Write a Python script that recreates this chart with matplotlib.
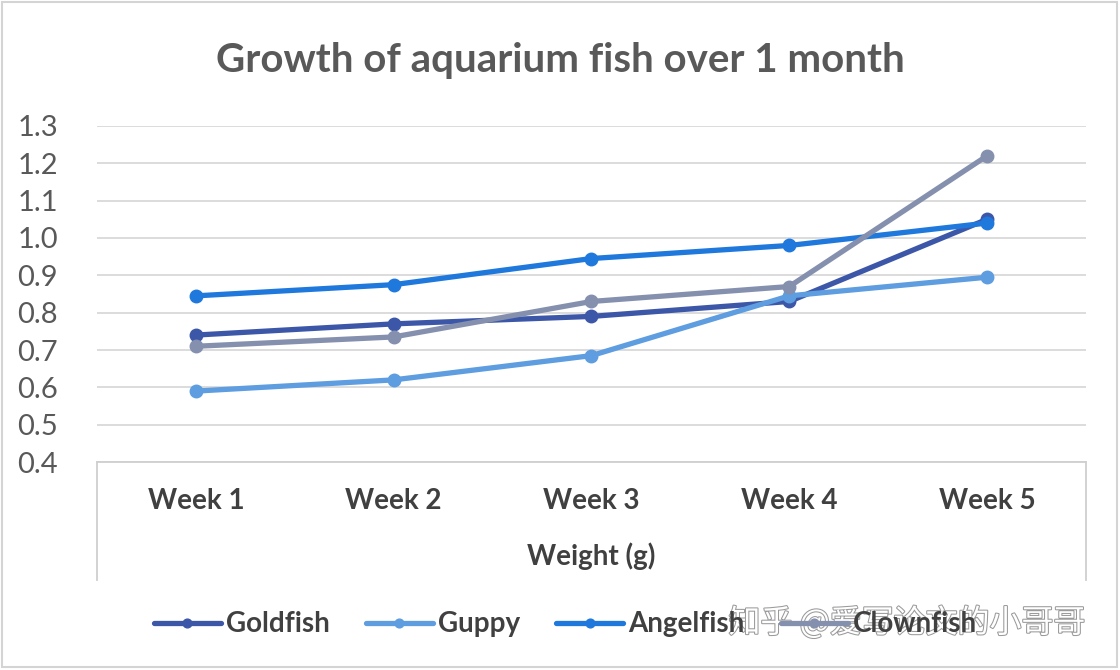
import matplotlib.pyplot as plt
import matplotlib.patheffects as pe
from matplotlib.lines import Line2D
from matplotlib.patches import Rectangle

plt.rcParams['font.family'] = ['Lato', 'DejaVu Sans']

weeks = ["Week 1", "Week 2", "Week 3", "Week 4", "Week 5"]
goldfish = [0.74, 0.77, 0.79, 0.83, 1.05]
guppy = [0.59, 0.62, 0.685, 0.845, 0.895]
angelfish = [0.845, 0.875, 0.945, 0.98, 1.04]
clownfish = [0.71, 0.735, 0.83, 0.87, 1.22]
yticks = [0.4, 0.5, 0.6, 0.7, 0.8, 0.9, 1.0, 1.1, 1.2, 1.3]

series = [
    ("Goldfish", goldfish, "#3d57a8"),
    ("Guppy", guppy, "#5d9de0"),
    ("Angelfish", angelfish, "#1f78dc"),
    ("Clownfish", clownfish, "#8490ad"),
]

fig = plt.figure(figsize=(11.2, 6.7), dpi=100)
ax = fig.add_axes([0.0866, 0.3104, 0.883, 0.5016])

x = list(range(len(weeks)))
for name, vals, col in series:
    ax.plot(x, vals, color=col, lw=3.8, marker="o", ms=9, label=name,
            solid_capstyle="round")

ax.set_xlim(-0.5, len(weeks) - 0.5)
ax.set_ylim(0.4, 1.3)
ax.set_yticks(yticks)
ax.set_yticklabels([f"{v:.1f}" for v in yticks])
ax.grid(axis="y", color="#d9d9d9", lw=1.3)
ax.set_axisbelow(True)
for s in ["left", "right", "top"]:
    ax.spines[s].set_visible(False)
ax.spines["bottom"].set_color("#cfcfcf")
ax.spines["bottom"].set_linewidth(1.3)

ax.tick_params(axis="y", length=0, pad=28, labelsize=21, labelcolor="#595959")
ax.tick_params(axis="x", length=0, pad=19, labelsize=20, labelcolor="#404040")
ax.set_xticks(x)
ax.set_xticklabels(weeks, fontweight="bold")

# box under the axis
for xx in (0, 1):
    ax.add_line(Line2D([xx, xx], [0, -0.35], transform=ax.transAxes,
                       color="#cfcfcf", lw=1.3, clip_on=False))

ax.set_xlabel("Weight (g)", fontsize=20, fontweight="bold", color="#404040",
              labelpad=20)

fig.text(0.5, 0.91, "Growth of aquarium fish over 1 month", ha="center",
         va="center", fontsize=29, fontweight="bold", color="#595959")

fig.legend(loc="center", bbox_to_anchor=(0.505, 0.068), ncol=4, frameon=False,
           handlelength=2.4, columnspacing=1.3, handletextpad=0.2, markerscale=0.7,
           prop={"weight": "bold", "size": 20}, labelcolor="#404040")

fig.text(0.81, 0.07, "知乎 @爱写论文的小哥哥", ha="center", va="center",
         fontsize=23, color="white", family=["Noto Sans CJK SC", "DejaVu Sans"],
         path_effects=[pe.withStroke(linewidth=1.5, foreground="#9a9a9a")])

fig.patches.append(Rectangle((0.002, 0.004), 0.995, 0.993, transform=fig.transFigure,
                             fill=False, edgecolor="#d4d4d4", lw=1.5))

fig.savefig("out.png", dpi=100)
